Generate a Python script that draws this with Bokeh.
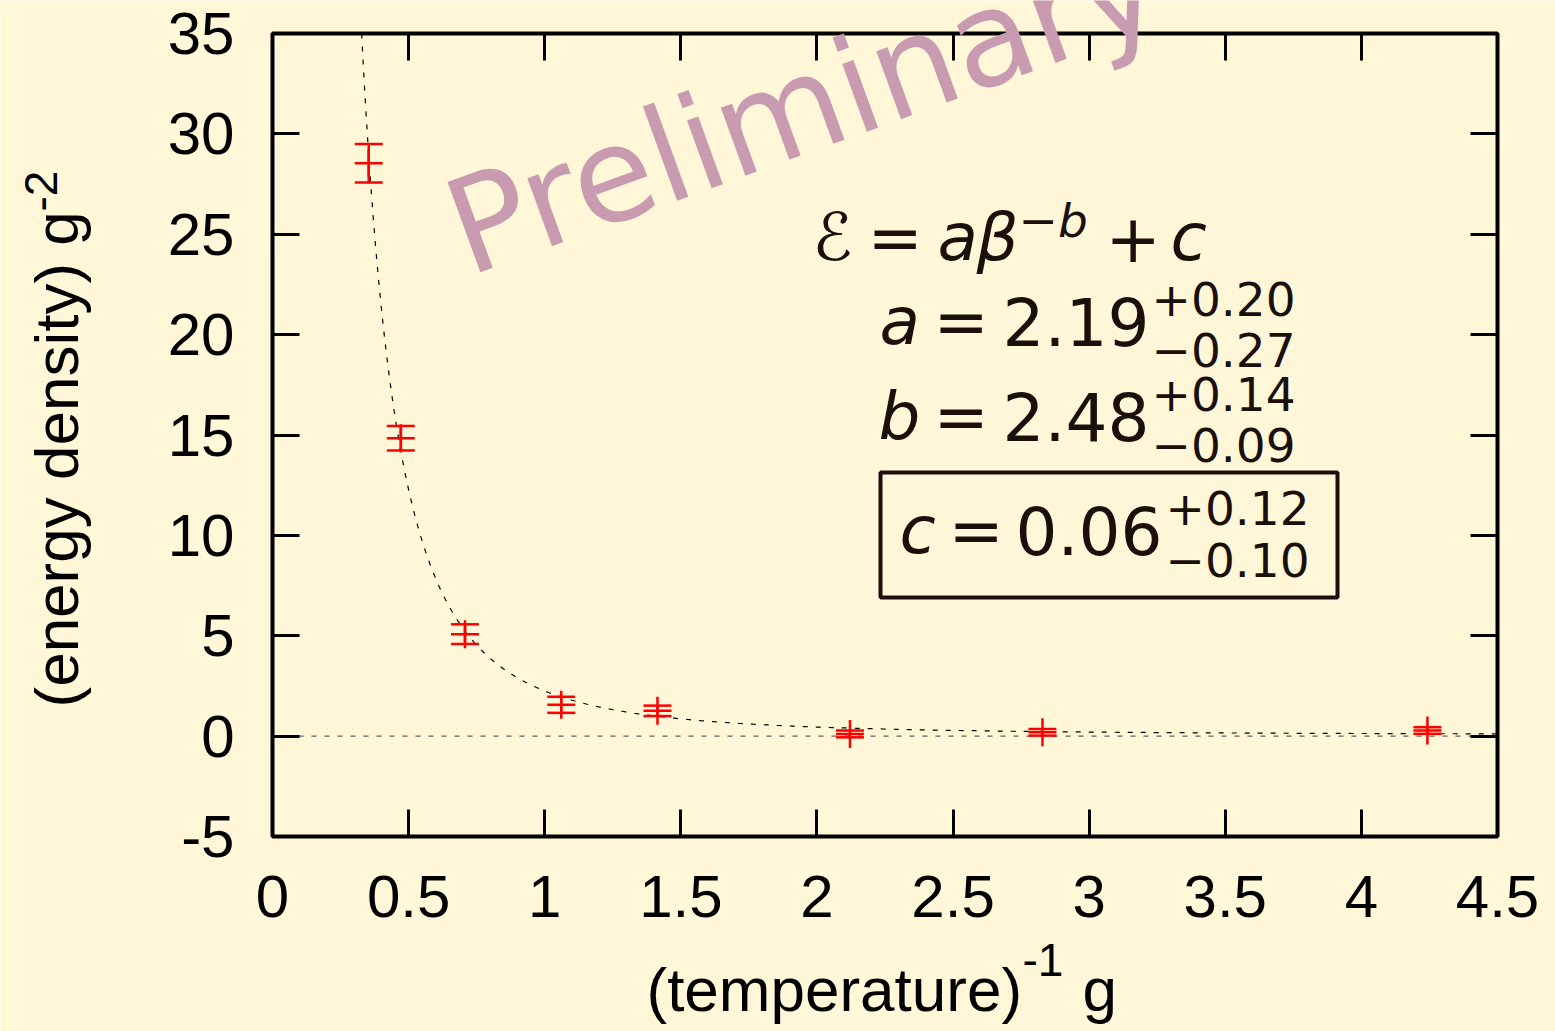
import numpy as np
from bokeh.plotting import figure
from bokeh.models import (Range1d, LinearAxis, FixedTicker, Label,
                          BoxAnnotation, ColumnDataSource)
from bokeh.embed import file_html
from bokeh.resources import INLINE

# ---------------- data ----------------
beta = [0.3536, 0.4714, 0.7071, 1.0607, 1.4142, 2.1213, 2.8284, 4.2426]
energy = [28.54, 14.84, 5.08, 1.56, 1.26, 0.11, 0.19, 0.28]
energy_err = [0.96, 0.61, 0.49, 0.40, 0.26, 0.17, 0.165, 0.165]

# fit parameters shown in the chart
fit_a = 2.19
fit_b = 2.48
fit_c = 0.06

x_ticks = [0, 0.5, 1, 1.5, 2, 2.5, 3, 3.5, 4, 4.5]
x_tick_labels = ["0", "0.5", "1", "1.5", "2", "2.5", "3", "3.5", "4", "4.5"]
y_ticks = [-5, 0, 5, 10, 15, 20, 25, 30, 35]
y_tick_labels = ["-5", "0", "5", "10", "15", "20", "25", "30", "35"]

BG = "#FFF7D8"
INK = "#1a0f0a"
RED = "#FF0000"

W, H = 1555, 1031
# plot box inside the canvas (pixels)
L, R, T, B = 272, 1497, 33, 836
XMIN, XMAX, YMIN, YMAX = 0, 4.5, -5, 35


def X(px):
    return XMIN + (px - L) * (XMAX - XMIN) / (R - L)


def Y(py):
    return YMAX - (py - T) * (YMAX - YMIN) / (B - T)


# the frame covers the whole canvas; the plot box is drawn inside it
p = figure(width=W, height=H, output_backend="svg", toolbar_location=None,
           x_range=Range1d(X(0), X(W)), y_range=Range1d(Y(H), Y(0)),
           min_border=0, x_axis_location=None, y_axis_location=None)
p.background_fill_color = BG
p.border_fill_color = BG
p.outline_line_color = None
p.xgrid.visible = False
p.ygrid.visible = False


def make_axis(ticks, labels, show_labels, loc):
    ax = LinearAxis(ticker=FixedTicker(ticks=ticks), fixed_location=loc)
    ax.axis_line_color = None
    ax.major_tick_in = 27
    ax.major_tick_out = 0
    ax.major_tick_line_width = 3
    ax.major_tick_line_color = "black"
    ax.minor_tick_line_color = None
    if show_labels:
        ax.major_label_overrides = {t: s for t, s in zip(ticks, labels)}
        ax.major_label_text_font = "Liberation Sans"
        ax.major_label_text_font_size = "60px"
        ax.major_label_text_color = "black"
    else:
        ax.major_label_text_font_size = "1px"
        ax.major_label_text_color = None
        ax.major_label_standoff = 0
    return ax


xb = make_axis(x_ticks, x_tick_labels, True, YMIN)
xb.major_label_standoff = 39
yl = make_axis(y_ticks, y_tick_labels, True, XMIN)
yl.major_label_standoff = 38
p.add_layout(xb, "below")
p.add_layout(yl, "left")
p.add_layout(make_axis(x_ticks, x_tick_labels, False, YMAX), "above")
p.add_layout(make_axis(y_ticks, y_tick_labels, False, XMAX), "right")

# plot box
p.add_layout(BoxAnnotation(left=XMIN, right=XMAX, bottom=YMIN, top=YMAX,
                           fill_color=None, line_color="black",
                           line_alpha=1.0, line_width=4))

# zero axis
p.line([XMIN, XMAX], [0, 0], line_color="#606060", line_width=1.2,
       line_dash="5 8")

# fit curve, drawn where it lies inside the box
b_top = ((YMAX - fit_c) / fit_a) ** (-1.0 / fit_b)
bc = np.linspace(b_top, XMAX, 600)
p.line(bc, fit_a * bc ** (-fit_b) + fit_c, line_color="black",
       line_width=1.2, line_dash="5 8")

# data with error bars
e = np.array(energy)
er = np.array(energy_err)
src = ColumnDataSource(dict(x=beta, y=e, lo=e - er, hi=e + er))
p.segment(x0="x", y0="lo", x1="x", y1="hi", source=src, line_color=RED,
          line_width=2.5)
p.scatter(x="x", y="lo", source=src, marker="dash", size=28,
          line_color=RED, line_width=2.5)
p.scatter(x="x", y="hi", source=src, marker="dash", size=28,
          line_color=RED, line_width=2.5)
p.scatter(x="x", y="y", source=src, marker="cross", size=28,
          line_color=RED, line_width=2.5)

# watermark
p.add_layout(Label(x=X(452), y=Y(233), text="Preliminary",
                   text_font="DejaVu Sans", text_font_size="132px",
                   text_color="#c99bb0", angle=np.deg2rad(20),
                   text_align="left", text_baseline="alphabetic",
                   level="overlay"))


def txt(px, py, s, size, italic=False, font="DejaVu Sans", color=INK,
        angle=0.0):
    # px, py: wanted baseline origin in pixels; shift to compensate for
    # the renderer's baseline placement
    d = 0.38 * size
    px = px - np.sin(angle) * d
    py = py - np.cos(angle) * d
    p.add_layout(Label(x=X(px), y=Y(py), text=s, text_font=font,
                       text_font_size=f"{size}px", text_color=color,
                       text_font_style="italic" if italic else "normal",
                       text_align="left", text_baseline="alphabetic",
                       angle=angle, level="overlay"))


M, S = 66, 47
# line 1: E = a beta^-b + c
txt(812, 262, "\u2130", M)
txt(867, 262, "=", M)
txt(937, 262, "a", M, True)
txt(976, 262, "\u03b2", M, True)
txt(1018, 238, "\u2212b", S, True)
txt(1105, 262, "+", M)
txt(1170, 262, "c", M, True)
# line 2
txt(879, 346, "a", M, True)
txt(933, 346, "=", M)
txt(1002, 346, "2.19", M)
txt(1151, 316, "+0.20", S)
txt(1151, 367, "\u22120.27", S)
# line 3
txt(878, 441, "b", M, True)
txt(933, 441, "=", M)
txt(1002, 441, "2.48", M)
txt(1151, 411, "+0.14", S)
txt(1151, 462, "\u22120.09", S)
# line 4 (boxed)
txt(899, 555, "c", M, True)
txt(948, 555, "=", M)
txt(1015, 555, "0.06", M)
txt(1165, 525, "+0.12", S)
txt(1165, 577, "\u22120.10", S)
p.add_layout(BoxAnnotation(left=X(880), right=X(1337), top=Y(472),
                           bottom=Y(597), fill_color=None, line_color=INK,
                           line_alpha=1.0, line_width=4))

# axis titles
txt(646, 1013, "(temperature)", 62, font="Liberation Sans", color="black")
txt(1022, 977, "-1", 46, font="Liberation Sans", color="black")
txt(1082, 1013, "g", 62, font="Liberation Sans", color="black")
txt(80, 707, "(energy density) g", 62, font="Liberation Sans",
    color="black", angle=np.pi / 2)
txt(58, 211, "-2", 46, font="Liberation Sans", color="black",
    angle=np.pi / 2)

open("out.html", "w").write(file_html(p, INLINE))
